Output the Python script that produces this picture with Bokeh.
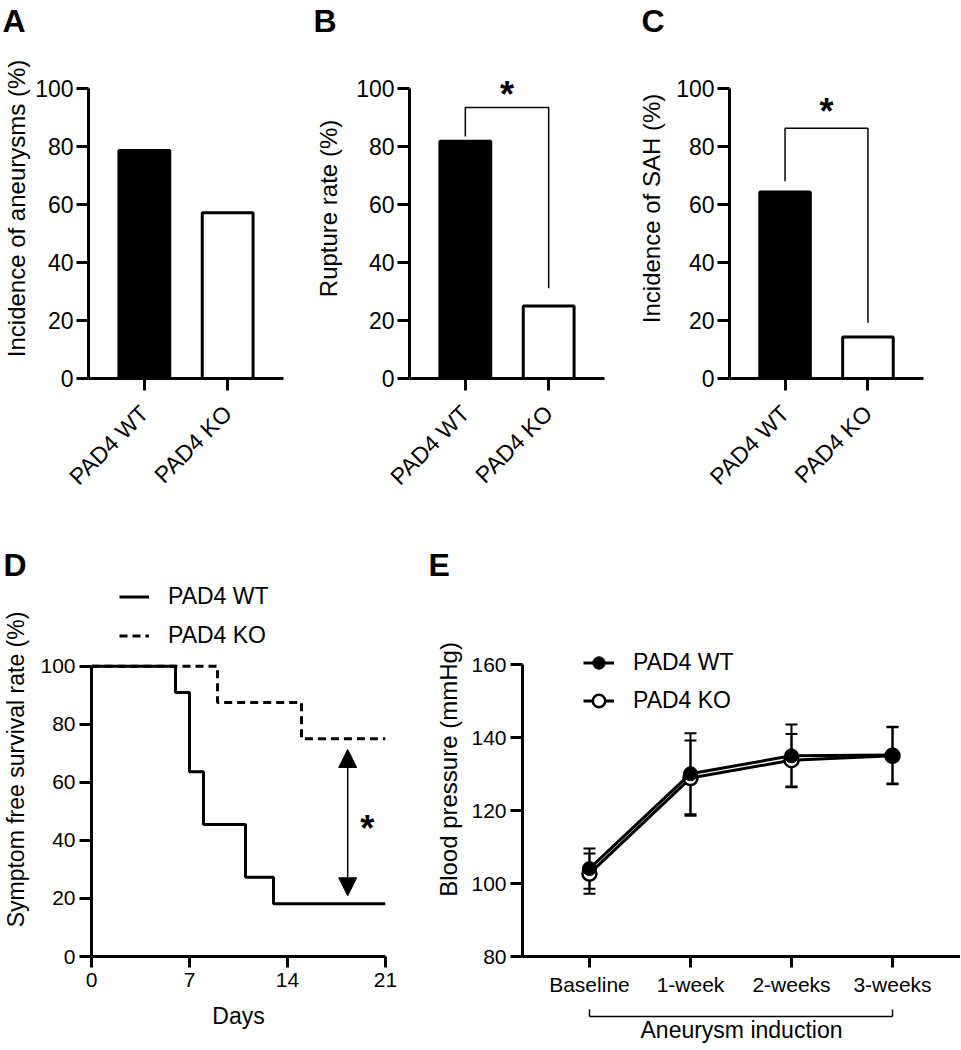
import math
from bokeh.plotting import figure
from bokeh.layouts import row, column
from bokeh.models import (Range1d, FixedTicker, LinearAxis, Legend, LegendItem,
                          Arrow, NormalHead, Whisker, TeeHead, ColumnDataSource)
from bokeh.core.properties import value
from bokeh.embed import file_html
from bokeh.resources import INLINE

FONT = "Liberation Sans"

# ---------------- data ----------------
groups = ["PAD4 WT", "PAD4 KO"]
group_pos = [0, 1]
aneurysm_incidence = [78.6, 57.1]
rupture_rate = [81.8, 25.0]
sah_incidence = [64.3, 14.3]
bar_colors = ["black", "white"]

# significance brackets: left leg bottom, top, right leg bottom (in %)
bracket_B = [83.4, 93.4, 31.1]
bracket_C = [68.0, 86.3, 19.2]
star_B = [0.5, 100.3]
star_C = [0.5, 94.3]

wt_days = [0, 6, 7, 8, 11, 13, 21]
wt_surv = [100, 90.9, 63.6, 45.5, 27.3, 18.2, 18.2]
ko_days = [0, 9, 15, 21]
ko_surv = [100, 87.5, 75.0, 75.0]
day_ticks = [0, 7, 14, 21]
arrow_D = [18.3, 20.9, 71.3]
star_D = [19.7, 46.4]

timepoints = ["Baseline", "1-week", "2-weeks", "3-weeks"]
tp_pos = [0, 1, 2, 3]
bp_wt = [104.1, 130.1, 135.0, 135.2]
bp_wt_sd = [5.5, 11.1, 8.6, 7.8]
bp_ko = [102.7, 128.9, 133.8, 135.0]
bp_ko_sd = [5.5, 10.3, 7.2, 7.8]

STAR_SHIFT_PX = 7  # asterisk ink centre sits this far above its anchor


def base_fig(width, height, xr, yr, left, right, top, bottom):
    p = figure(width=width, height=height, x_range=Range1d(*xr), y_range=Range1d(*yr),
               output_backend="svg", toolbar_location=None,
               min_border_left=left, min_border_right=right,
               min_border_top=top, min_border_bottom=bottom)
    p.grid.visible = False
    p.outline_line_color = None
    p.background_fill_color = "white"
    p.border_fill_color = "white"
    return p


def style_axis(ax, tick_size, label_size, tick_out=12):
    ax.axis_line_width = 3
    ax.axis_line_color = "black"
    ax.major_tick_line_width = 3
    ax.major_tick_line_color = "black"
    ax.major_tick_out = tick_out
    ax.major_tick_in = 0
    ax.minor_tick_out = 0
    ax.minor_tick_line_color = None
    ax.major_label_text_font = FONT
    ax.major_label_text_font_size = f"{tick_size}px"
    ax.major_label_text_color = "black"
    ax.axis_label_text_font = FONT
    ax.axis_label_text_font_size = f"{label_size}px"
    ax.axis_label_text_font_style = "normal"
    ax.axis_label_text_color = "black"


def set_letter(p, letter, offset):
    p.title.text = letter
    p.title.text_font = FONT
    p.title.text_font_size = "32px"
    p.title.text_font_style = "bold"
    p.title.text_color = "black"
    p.title.align = "left"
    p.title.offset = offset
    p.title.standoff = 0


def add_star(p, x, yc, px_per_unit):
    p.text(x=[x], y=[yc - STAR_SHIFT_PX / px_per_unit], text=["*"],
           text_font=value(FONT), text_font_size="36px", text_font_style="bold",
           text_align="center", text_baseline="alphabetic", text_color="black")


def bar_panel(letter, vals, ylabel, width, right, left, letter_off, label_standoff,
              bracket=None, star=None):
    p = base_fig(width, 520, (-0.67, 1.67), (0, 117.2), left, right, 38, 142)
    p.vbar(x=group_pos, top=vals, bottom=0, width=0.61, fill_color=bar_colors,
           line_color="black", line_width=3)
    yax = p.yaxis[0]
    style_axis(yax, 23, 24)
    yax.bounds = (0, 100)
    yax.ticker = FixedTicker(ticks=[0, 20, 40, 60, 80, 100])
    yax.axis_label = ylabel
    yax.major_label_standoff = 3
    yax.axis_label_standoff = label_standoff
    xax = p.xaxis[0]
    style_axis(xax, 23, 24)
    xax.ticker = FixedTicker(ticks=group_pos)
    xax.major_label_overrides = {i: g for i, g in zip(group_pos, groups)}
    xax.major_label_orientation = math.pi / 4
    xax.major_label_standoff = 19
    if bracket is not None:
        p.line(x=[group_pos[0], group_pos[0], group_pos[1], group_pos[1]],
               y=[bracket[0], bracket[1], bracket[1], bracket[2]],
               line_width=1.5, line_color="black")
    if star is not None:
        add_star(p, star[0], star[1], 2.9)
    set_letter(p, letter, letter_off)
    return p


pA = bar_panel("A", aneurysm_incidence, "Incidence of aneurysms (%)", 300, 17, 88, -86, 2)
pB = bar_panel("B", rupture_rate, "Rupture rate (%)", 320, 16, 109, -96, 11,
               bracket=bracket_B, star=star_B)
pC = bar_panel("C", sah_incidence, "Incidence of SAH (%)", 340, 37, 109, -88, 8,
               bracket=bracket_C, star=star_C)

# ---------------- D: survival ----------------
pD = base_fig(420, 529, (0, 21), (0, 128.8), 90, 35, 62, 91)
rWT = pD.step(wt_days, wt_surv, mode="after", line_width=3, line_color="black")
rKO = pD.step(ko_days, ko_surv, mode="after", line_width=3, line_color="black",
              line_dash="8 5")
yax = pD.yaxis[0]
style_axis(yax, 21, 23)
yax.bounds = (0, 100)
yax.ticker = FixedTicker(ticks=[0, 20, 40, 60, 80, 100])
yax.axis_label = "Symptom free survival rate (%)"
yax.major_label_standoff = 4
yax.axis_label_standoff = 8
xax = pD.xaxis[0]
style_axis(xax, 21, 23, tick_out=11)
xax.ticker = FixedTicker(ticks=day_ticks)
xax.axis_label = "Days"
xax.major_label_standoff = 5
xax.axis_label_standoff = 13
legD = Legend(items=[LegendItem(label="PAD4 WT", renderers=[rWT]),
                     LegendItem(label="PAD4 KO", renderers=[rKO])],
              location=(28, 305), orientation="vertical", glyph_width=30,
              glyph_height=31, label_height=31, label_standoff=19, spacing=8,
              padding=0, margin=0, border_line_color=None, background_fill_alpha=0,
              label_text_font=FONT, label_text_font_size="23px", label_text_color="black")
pD.add_layout(legD)
pD.add_layout(Arrow(start=NormalHead(size=18, fill_color="black", line_color="black", line_width=1),
                    end=NormalHead(size=18, fill_color="black", line_color="black", line_width=1),
                    x_start=arrow_D[0], y_start=arrow_D[1], x_end=arrow_D[0], y_end=arrow_D[2],
                    line_width=1.5, line_color="black"))
add_star(pD, star_D[0], star_D[1], 2.92)
set_letter(pD, "D", -88)

# ---------------- E: blood pressure ----------------
pE = base_fig(540, 529, (-0.663, 3.673), (80, 182.5), 102, 0, 62, 93)
for means, sds in ((bp_ko, bp_ko_sd), (bp_wt, bp_wt_sd)):
    src = ColumnDataSource(dict(x=tp_pos, upper=[m + s for m, s in zip(means, sds)],
                                lower=[m - s for m, s in zip(means, sds)]))
    pE.add_layout(Whisker(source=src, base="x", upper="upper", lower="lower",
                          line_width=2, line_color="black", level="underlay",
                          upper_head=TeeHead(size=12, line_width=2, line_color="black"),
                          lower_head=TeeHead(size=12, line_width=2, line_color="black")))
lKO = pE.line(tp_pos, bp_ko, line_width=3, line_color="black")
sKO = pE.scatter(tp_pos, bp_ko, size=14, marker="circle", fill_color="white",
                 line_color="black", line_width=2.5)
lWT = pE.line(tp_pos, bp_wt, line_width=3, line_color="black")
sWT = pE.scatter(tp_pos, bp_wt, size=14, marker="circle", fill_color="black",
                 line_color="black", line_width=1)
yax = pE.yaxis[0]
style_axis(yax, 21, 24)
yax.bounds = (80, 160)
yax.ticker = FixedTicker(ticks=[80, 100, 120, 140, 160])
yax.axis_label = "Blood pressure (mmHg)"
yax.major_label_standoff = 4
yax.axis_label_standoff = 6
xax = pE.xaxis[0]
style_axis(xax, 21, 9, tick_out=11)
xax.ticker = FixedTicker(ticks=tp_pos)
xax.major_label_overrides = {i: t for i, t in zip(tp_pos, timepoints)}
xax.major_label_standoff = 5
# invisible spacer label: keeps the "Aneurysm induction" bracket below the tick labels
xax.axis_label = " "
xax.axis_label_text_color = None
xax.axis_label_standoff = 5
ax2 = LinearAxis(bounds=(0, 3), ticker=FixedTicker(ticks=[tp_pos[0], tp_pos[-1]]))
ax2.axis_line_width = 1.5
ax2.axis_line_color = "black"
ax2.major_tick_in = 7
ax2.major_tick_out = 0
ax2.minor_tick_out = 0
ax2.major_tick_line_width = 1.5
ax2.major_tick_line_color = "black"
ax2.minor_tick_line_color = None
ax2.major_label_text_font_size = "1px"
ax2.major_label_text_color = None
ax2.major_label_standoff = 0
ax2.axis_label = "Aneurysm induction"
ax2.axis_label_text_font = FONT
ax2.axis_label_text_font_size = "23px"
ax2.axis_label_text_font_style = "normal"
ax2.axis_label_text_color = "black"
ax2.axis_label_standoff = 0
pE.add_layout(ax2, "below")
legE = Legend(items=[LegendItem(label="PAD4 WT", renderers=[lWT, sWT]),
                     LegendItem(label="PAD4 KO", renderers=[lKO, sKO])],
              location=(61, 240), orientation="vertical", glyph_width=31,
              glyph_height=31, label_height=31, label_standoff=19, spacing=7,
              padding=0, margin=0, border_line_color=None, background_fill_alpha=0,
              label_text_font=FONT, label_text_font_size="23px", label_text_color="black")
pE.add_layout(legE)
set_letter(pE, "E", -94)

layout = column(row(pA, pB, pC), row(pD, pE))
open("out.html", "w").write(file_html(layout, INLINE))
